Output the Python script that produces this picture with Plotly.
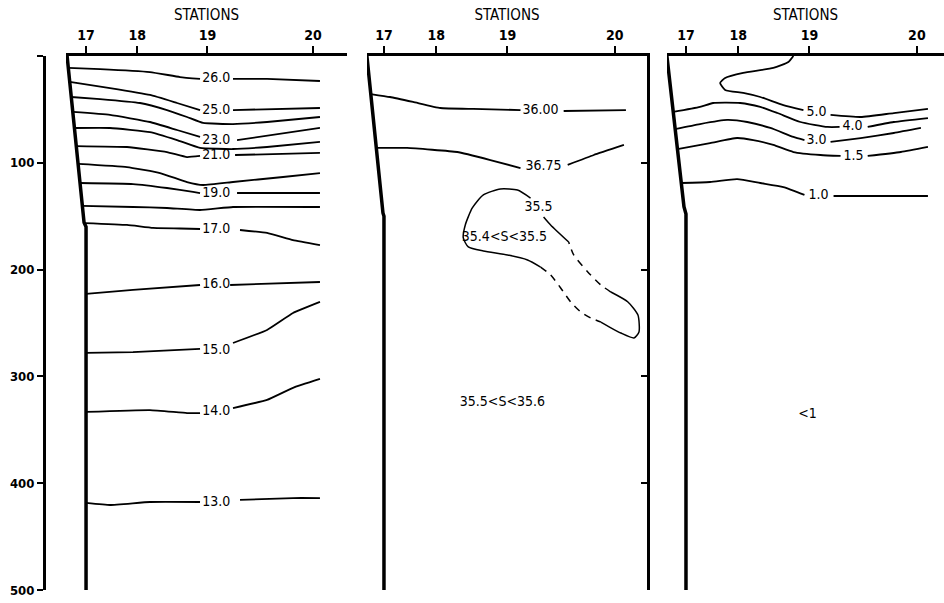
import plotly.graph_objects as go

FONT = "DejaVu Sans Condensed, Liberation Sans Narrow, sans-serif"
INK = "#000000"

# along-section distance of the stations (km-ish), depth in m
STATIONS = ["17", "18", "19", "20"]
STATION_KM = [0, 52, 123, 230]
DEPTH_TICKS = [0, 100, 200, 300, 400, 500]
DEPTH_LABELS = ["", "100", "200", "300", "400", "500"]

# station 17 wall (continental slope) in each section
WALL1_X = [-19.2, -2, 0, 0]
WALL1_Y = [0, 156, 160, 500]
WALL2_X = [-17, -1, 0, 0]
WALL2_Y = [0, 147, 150, 500]
WALL3_X = [-19, -2, 0, 0]
WALL3_Y = [0, 141, 148, 500]

# --- temperature section (None = gap left for the label)
TEMP_X = [
    [-18, 14.2, 64.8, 95.2, 115.5, None, 148.9, 183.4, 237],
    [-16.5, 24.3, 64.8, 92.2, 115.5, None, 148.9, 237],
    [-15, 14.2, 54.7, 82, 102.3, 118.5, 148.9, 183.4, 237],
    [-13.4, 24.3, 64.8, 92.2, 115.5, None, 153, 237],
    [-11.8, 24.3, 64.8, 92.2, 115.5, 148.9, 183.4, 237],
    [-9.9, 41.5, 82, 102.3, 115.5, None, 151, 237],
    [-8.1, 41.5, 75, 102.3, 118.5, 148.9, 199.6, 237],
    [-6.1, 47.6, 82, 108.4, 115.5, None, 153, 237],
    [-3.8, 47.6, 82, 115.5, 148.9, 237],
    [-2, 41.5, 67.9, 95.2, 115.5, None, 156, 183.4, 209.7, 237],
    [0, 47.6, 115.5, None, 146, 237],
    [0, 47.6, 115.5, None, 148.9, 183.4, 209.7, 237],
    [0, 64.8, 102.3, 115.5, None, 148.9, 183.4, 209.7, 237],
    [0, 24.3, 64.8, 115.5, None, 156, 209.7, 237],
]
TEMP_Y = [
    [11.2, 12.2, 15, 19.7, 21.5, None, 21.5, 21.5, 23.4],
    [24.3, 30, 36.5, 44, 50.6, None, 50.6, 48.7],
    [38.4, 40.3, 44, 50.6, 57.1, 62.7, 63.7, 61.8, 57.1],
    [52.4, 55.2, 61.8, 69.3, 75.8, None, 78.7, 67.4],
    [67.4, 67.4, 71.2, 78.7, 86.1, 87.1, 85.2, 80.5],
    [84.3, 85.2, 89.9, 94.6, 93.6, None, 92.7, 90.8],
    [101, 104, 109.6, 118, 120.8, 118, 113.3, 109.6],
    [118.9, 119.9, 123.6, 127.3, 128.3, None, 128.3, 128.3],
    [140.4, 141.4, 142.3, 144.2, 141.4, 141.4],
    [156.4, 158.2, 161, 161.5, 162, None, 162.9, 165.7, 172.3, 177],
    [222.8, 219, 214.4, None, 214.4, 211.6],
    [278, 277.2, 274.3, None, 268.7, 256.5, 240.6, 230.3],
    [333.3, 331.5, 334.3, 334.3, None, 329.6, 322, 310.7, 302.4],
    [418.5, 420.4, 417.6, 417.6, None, 415.7, 413.9, 413.9],
]
TEMP_LABELS = ["26.0", "25.0", "23.0", "21.0", "19.0", "17.0", "16.0", "15.0", "14.0", "13.0"]
TEMP_LABEL_X = [132, 132, 132, 132, 132, 132, 132, 132, 132, 132]
TEMP_LABEL_Y = [21.5, 50.6, 78.7, 92.7, 128.3, 162.9, 214.4, 276, 333.3, 418.5]

# --- salinity section
SAL_X = [
    [-13.1, 6, 29, 56, 89, 136, None, 179, 241],
    [-7.6, 23, 73, 106, 136, None, 183, 209, 239],
]
SAL_Y = [
    [35.6, 38.4, 43, 48.7, 49.6, 50.6, None, 51.5, 50.6],
    [86.1, 86.1, 89.9, 97.4, 104.9, None, 102, 92.7, 83.3],
]
# closed 35.5 tongue, solid and dashed stretches
TONGUE_X = [146, 133, 116, 99, 88, 81, 79, 84, 99, 123, 143, 156, None,
            216, 236, 249, 254, 253, 243, 226, None, 184, 166, 159]
TONGUE_Y = [133, 125.5, 124.5, 130.1, 142.3, 158.2, 170.4, 178.8, 182.6, 186.3, 191, 197.6, None,
            249.1, 259.4, 264, 258.4, 242.5, 230.3, 221, None, 174.2, 158.2, 150.7]
TONGUE_DASH_X = [156, 166, 176, 186, 196, 206, 216, None, 226, 216, 203, 189, 184]
TONGUE_DASH_Y = [197.6, 205, 217.2, 230.3, 239.7, 245.3, 249.1, None, 221, 214.4, 202.2, 186.3, 174.2]
SAL_LABELS = ["36.00", "36.75", "35.5", "35.4&lt;S&lt;35.5", "35.5&lt;S&lt;35.6"]
SAL_LABEL_X = [156, 159, 154, 120, 118]
SAL_LABEL_Y = [50.6, 103, 141.4, 169.5, 324]

# --- third section
OXY_X = [
    [107, 102, 87, 57, 39, 34, 39, 57, 74, 97, 117, None, 144, 174, 207, 241],
    [-12.7, 14, 27, 54, 74, 91, 114, 141, 153, None, 181, 207, 241],
    [-10.8, 14, 41, 61, 84, 107, 118, None, 144, 174, 207, 234],
    [-8.5, 24, 51, 67, 87, 107, 134, 154, None, 181, 214, 241],
    [-4.7, 24, 51, 74, 97, 118, None, 147, 241],
]
OXY_Y = [
    [0, 5.6, 11.2, 15.9, 20.6, 25.3, 31.8, 34.6, 38.4, 45.9, 50.6, None, 55.2, 57.1, 53.4, 49.6],
    [52.4, 47.7, 44, 44, 47.7, 53.4, 61.8, 66.4, 66.4, None, 66.4, 61.8, 58.1],
    [68.4, 63.7, 59.9, 61.8, 67.4, 75.8, 78.7, None, 80.5, 76.8, 72.1, 67.4],
    [87.1, 81.5, 76.8, 78.7, 83.3, 89.9, 92.7, 93.6, None, 93.6, 89.9, 85.2],
    [118.9, 118, 115.2, 118.9, 122.7, 130.1, None, 131.1, 131.1],
]
OXY_LABELS = ["5.0", "4.0", "3.0", "1.5", "1.0", "&lt;1"]
OXY_LABEL_X = [130, 166, 130, 167, 132, 121]
OXY_LABEL_Y = [53, 66.4, 78.7, 94, 131, 336]

fig = go.Figure()


def add_lines(xs, ys, xa, ya, width=1.8, dash="solid", smooth=0.35):
    for x, y in zip(xs, ys):
        fig.add_trace(go.Scatter(
            x=x, y=y, xaxis=xa, yaxis=ya, mode="lines", connectgaps=False,
            line=dict(color=INK, width=width, dash=dash, shape="spline", smoothing=smooth),
            hoverinfo="skip",
        ))


def add_labels(text, x, y, xa, ya, size=14):
    fig.add_trace(go.Scatter(
        x=x, y=y, text=text, xaxis=xa, yaxis=ya, mode="text",
        textposition="middle center",
        textfont=dict(family=FONT, size=size, color=INK),
        hoverinfo="skip",
    ))


# panel 1 - temperature
add_lines([WALL1_X], [WALL1_Y], "x", "y", width=3.5, smooth=0)
add_lines(TEMP_X, TEMP_Y, "x", "y")
add_labels(TEMP_LABELS, TEMP_LABEL_X, TEMP_LABEL_Y, "x", "y")

# panel 2 - salinity
add_lines([WALL2_X], [WALL2_Y], "x2", "y3", width=3.5, smooth=0)
add_lines(SAL_X, SAL_Y, "x2", "y3")
add_lines([TONGUE_X], [TONGUE_Y], "x2", "y3", width=1.5, smooth=0.6)
add_lines([TONGUE_DASH_X], [TONGUE_DASH_Y], "x2", "y3", width=1.5, dash="7px,6px", smooth=0.6)
add_labels(SAL_LABELS, SAL_LABEL_X, SAL_LABEL_Y, "x2", "y3")

# panel 3
add_lines([WALL3_X], [WALL3_Y], "x3", "y4", width=3.5, smooth=0)
add_lines(OXY_X, OXY_Y, "x3", "y4", smooth=0.5)
add_labels(OXY_LABELS, OXY_LABEL_X, OXY_LABEL_Y, "x3", "y4")

W = 944.0
xbase = dict(
    side="top", showline=True, linewidth=3, linecolor=INK, showgrid=False, zeroline=False,
    ticks="outside", ticklen=7, tickwidth=2, tickcolor=INK, automargin=False,
    tickvals=STATION_KM, ticktext=STATIONS,
    tickfont=dict(family=FONT, size=14, color=INK, weight="bold"),
    title=dict(text="STATIONS", font=dict(family=FONT, size=15, color=INK), standoff=4),
)
ybase = dict(
    range=[500, 0], showgrid=False, zeroline=False, showline=True, linewidth=3, linecolor=INK,
    tickvals=DEPTH_TICKS, tickcolor=INK, tickwidth=2, automargin=False,
)

fig.update_layout(
    width=944, height=603,
    margin=dict(l=0, r=0, t=56, b=13),
    paper_bgcolor="white", plot_bgcolor="white",
    showlegend=False,
    xaxis=dict(xbase, domain=[66 / W, 347 / W], range=[-20.3, 264.4], anchor="y"),
    xaxis2=dict(xbase, domain=[367 / W, 647 / W], range=[-16.9, 262], anchor="y3"),
    xaxis3=dict(xbase, domain=[667 / W, 1.0], range=[-18.9, 257], anchor="y4"),
    yaxis=dict(ybase, anchor="free", position=44 / W, side="left",
               ticks="outside", ticklen=6, ticktext=DEPTH_LABELS,
               tickfont=dict(family=FONT, size=13, color=INK, weight="bold")),
    yaxis2=dict(ybase, overlaying="y", anchor="x", side="right",
                ticks="inside", ticklen=6, showticklabels=False),
    yaxis3=dict(ybase, anchor="x2", side="right",
                ticks="inside", ticklen=6, showticklabels=False),
    yaxis4=dict(ybase, anchor="x3", visible=False),
)

# page body has a default margin; drop it so the figure sits at the window corner
fig.write_html(
    "out.html",
    config={"displayModeBar": False},
    post_script="document.body.style.margin='0';",
)
